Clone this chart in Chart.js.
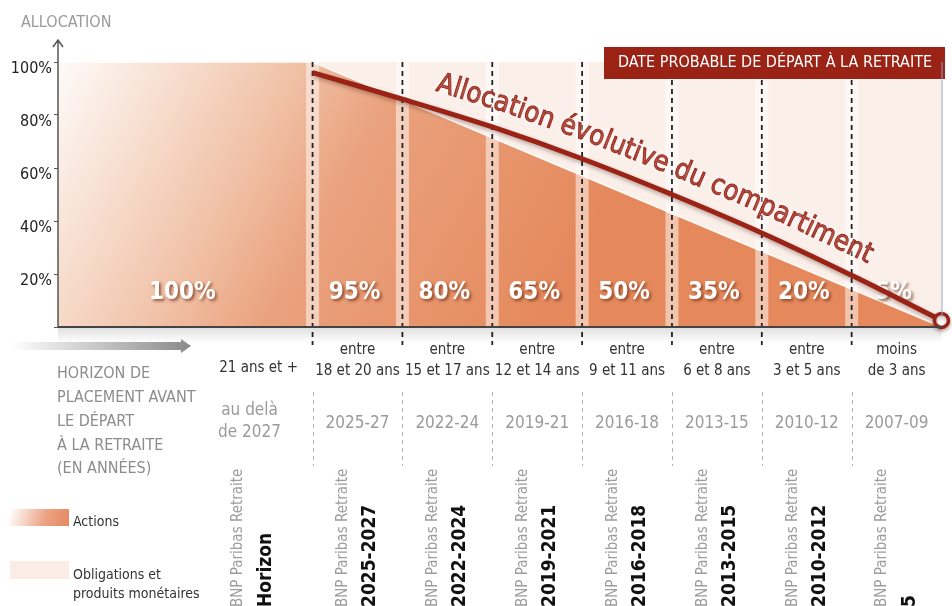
<!DOCTYPE html>
<html>
<head>
<meta charset="utf-8">
<script src="https://cdn.jsdelivr.net/npm/chart.js@4.4.1/dist/chart.umd.min.js"></script>
<style>
  html, body { margin: 0; padding: 0; background: #fff; }
  #wrap { width: 952px; height: 606px; position: relative; }
</style>
</head>
<body>
<div id="wrap"><canvas id="chart"></canvas></div>
<script>
const FONT = "'Liberation Sans Narrow', 'DejaVu Sans Condensed', Roboto, sans-serif";
const RED = "#9a2316";

// years left before retirement, column limits (right edge of the chart = 0)
const xMaxYears = 29.5;
const boundaries = [21, 18, 15, 12, 9, 6, 3];

const horizons = [
  ["21 ans et +"], ["entre", "18 et 20 ans"], ["entre", "15 et 17 ans"], ["entre", "12 et 14 ans"],
  ["entre", "9 et 11 ans"], ["entre", "6 et 8 ans"], ["entre", "3 et 5 ans"], ["moins", "de 3 ans"]
];
const retireDates = [
  ["au delà", "de 2027"], ["2025-27"], ["2022-24"], ["2019-21"],
  ["2016-18"], ["2013-15"], ["2010-12"], ["2007-09"]
];
const funds = ["Horizon", "2025-2027", "2022-2024", "2019-2021", "2016-2018", "2013-2015", "2010-2012", "2005"];
const actionsShare = [100, 95, 80, 65, 50, 35, 20, 5];

// actions area outline
const actionsYears = [29.5, 21, 0];
const actionsPct = [100, 100, 0];

// "Allocation évolutive du compartiment" curve
const allocYears = [21, 18, 15, 12, 9, 6, 3, 0];
const allocPct = [96, 86, 75.5, 63.5, 50, 35.5, 19.5, 2.5];

const yTicks = [0, 20, 40, 60, 80, 100];

function pts(xs, ys) { return xs.map((x, i) => ({ x: x, y: ys[i] })); }

function actionsFill(ctx) {
  const a = ctx.chart.chartArea;
  if (!a) return "#e8916a";
  const g = ctx.chart.ctx.createLinearGradient(a.left, a.top, a.left + 480, a.bottom);
  g.addColorStop(0, "#fefbf9");
  g.addColorStop(0.38, "#f1c2a8");
  g.addColorStop(0.56, "#eaa27e");
  g.addColorStop(1, "#e5895d");
  return g;
}

function textOnPath(ctx, p, text, x0, x1, offset) {
  const cum = [0];
  for (let i = 1; i < p.length; i++) cum.push(cum[i - 1] + Math.hypot(p[i].x - p[i - 1].x, p[i].y - p[i - 1].y));
  const at = s => {
    let i = 1;
    while (i < p.length - 1 && cum[i] < s) i++;
    const a = p[i - 1], b = p[i], t = (s - cum[i - 1]) / (cum[i] - cum[i - 1]);
    return { x: a.x + (b.x - a.x) * t, y: a.y + (b.y - a.y) * t };
  };
  const sAtX = x => {
    for (let i = 1; i < p.length; i++) {
      if (p[i].x >= x) return cum[i - 1] + (cum[i] - cum[i - 1]) * (x - p[i - 1].x) / (p[i].x - p[i - 1].x);
    }
    return cum[cum.length - 1];
  };
  const s0 = sAtX(x0), s1 = sAtX(x1);
  const f = (s1 - s0) / ctx.measureText(text).width;
  let s = s0;
  for (const ch of text) {
    const cw = ctx.measureText(ch).width * f;
    const mid = s + cw / 2;
    const c = at(mid), pa = at(mid - 18), pb = at(mid + 18);
    const ang = Math.atan2(pb.y - pa.y, pb.x - pa.x);
    ctx.save();
    ctx.translate(c.x + Math.sin(ang) * offset, c.y - Math.cos(ang) * offset);
    ctx.rotate(ang);
    ctx.scale(f, 1);
    ctx.fillText(ch, 0, 0);
    ctx.strokeText(ch, 0, 0);
    ctx.restore();
    s += cw;
  }
}

const decor = {
  id: "decor",
  beforeDatasetDraw(chart, args) {
    if (args.index !== 0) return;
    const ctx = chart.ctx;
    ctx.save();
    ctx.shadowColor = "rgba(60,20,10,0.35)";
    ctx.shadowBlur = 4;
    ctx.shadowOffsetY = 2;
  },
  afterDatasetDraw(chart, args) {
    const ctx = chart.ctx;
    const a = chart.chartArea, xs = chart.scales.x, ys = chart.scales.y;
    if (args.index === 0) { ctx.restore(); return; }
    if (args.index !== 1) return;
    // separator stripes and dashed lines
    ctx.save();
    boundaries.forEach(b => {
      const px = xs.getPixelForValue(b);
      ctx.fillStyle = "rgba(255,255,255,0.5)";
      ctx.fillRect(px - 6.5, a.top, 13, a.bottom - a.top);
      ctx.strokeStyle = "#222";
      ctx.lineWidth = 1.8;
      ctx.setLineDash([5, 4]);
      ctx.beginPath();
      ctx.moveTo(px, a.top);
      ctx.lineTo(px, a.bottom + 18);
      ctx.stroke();
    });
    ctx.setLineDash([]);
    // percentage labels
    const edges = [xMaxYears, ...boundaries, 0];
    ctx.font = "bold 24px " + FONT;
    ctx.textAlign = "center";
    ctx.textBaseline = "middle";
    ctx.fillStyle = "#fff";
    ctx.shadowColor = "rgba(110,45,20,0.7)";
    ctx.shadowBlur = 3;
    ctx.shadowOffsetX = 2;
    ctx.shadowOffsetY = 2;
    actionsShare.forEach((v, i) => {
      const cx = (xs.getPixelForValue(edges[i]) + xs.getPixelForValue(edges[i + 1])) / 2;
      ctx.fillText(v + "%", cx - 3, ys.getPixelForValue(13));
    });
    ctx.restore();
  },
  afterDraw(chart) {
    const ctx = chart.ctx;
    const a = chart.chartArea, xs = chart.scales.x;
    const edges = [xMaxYears, ...boundaries, 0];
    const anchors = edges.slice(0, -1).map((e, i) =>
      i === 0 ? xs.getPixelForValue(edges[1]) - 60
              : (xs.getPixelForValue(e) + xs.getPixelForValue(edges[i + 1])) / 2);
    ctx.save();

    // curve caption
    const line = chart.getDatasetMeta(0).data.map(el => ({ x: el.x, y: el.y }));
    ctx.font = "28px " + FONT;
    ctx.fillStyle = RED;
    ctx.strokeStyle = RED;
    ctx.lineWidth = 0.9;
    ctx.textAlign = "center";
    ctx.textBaseline = "alphabetic";
    ctx.shadowColor = "rgba(255,255,255,0.9)";
    ctx.shadowBlur = 6;
    textOnPath(ctx, line, "Allocation évolutive du compartiment", 430, 860, 18);
    ctx.shadowColor = "transparent";
    ctx.shadowBlur = 0;

    // banner
    ctx.fillStyle = RED;
    ctx.fillRect(604, 47, 341, 32);
    ctx.fillStyle = "#fff";
    ctx.font = "16px " + FONT;
    ctx.textBaseline = "middle";
    ctx.fillText("DATE PROBABLE DE DÉPART À LA RETRAITE", 775, 63);

    // right border
    ctx.strokeStyle = "#8fa0c8";
    ctx.lineWidth = 1;
    ctx.beginPath();
    ctx.moveTo(a.right + 0.5, a.top);
    ctx.lineTo(a.right + 0.5, a.bottom - 10);
    ctx.stroke();

    // axes
    const sh = ctx.createLinearGradient(0, a.bottom, 0, a.bottom + 16);
    sh.addColorStop(0, "rgba(0,0,0,0.13)");
    sh.addColorStop(1, "rgba(0,0,0,0)");
    ctx.fillStyle = sh;
    ctx.fillRect(a.left, a.bottom + 1, a.right - a.left, 16);
    ctx.strokeStyle = "#444";
    ctx.lineWidth = 2;
    ctx.beginPath();
    ctx.moveTo(a.left, a.bottom);
    ctx.lineTo(a.right, a.bottom);
    ctx.stroke();
    ctx.lineWidth = 1.5;
    ctx.strokeStyle = "#555";
    ctx.beginPath();
    ctx.moveTo(a.left, a.bottom);
    ctx.lineTo(a.left, 40);
    ctx.moveTo(a.left - 5, 47);
    ctx.lineTo(a.left, 40);
    ctx.lineTo(a.left + 5, 47);
    ctx.stroke();
    ctx.fillStyle = "#9a9a9a";
    ctx.font = "16px " + FONT;
    ctx.textAlign = "left";
    ctx.fillText("ALLOCATION", 21, 23);

    // grey arrow
    const ga = ctx.createLinearGradient(10, 0, 190, 0);
    ga.addColorStop(0, "rgba(140,140,140,0)");
    ga.addColorStop(1, "#8a8a8a");
    ctx.fillStyle = ga;
    ctx.beginPath();
    ctx.moveTo(10, 342); ctx.lineTo(181, 342); ctx.lineTo(181, 339);
    ctx.lineTo(191, 346); ctx.lineTo(181, 353); ctx.lineTo(181, 350);
    ctx.lineTo(10, 350); ctx.closePath();
    ctx.fill();

    ctx.fillStyle = "#8c8c8c";
    ctx.font = "16px " + FONT;
    ["HORIZON DE", "PLACEMENT AVANT", "LE DÉPART", "À LA RETRAITE", "(EN ANNÉES)"]
      .forEach((t, i) => ctx.fillText(t, 57, 374 + i * 23.8));

    // grey dashed separators in the date row
    ctx.strokeStyle = "#b3b3b3";
    ctx.lineWidth = 1;
    ctx.setLineDash([4, 4]);
    boundaries.forEach(b => {
      const px = Math.round(xs.getPixelForValue(b)) + 0.5;
      ctx.beginPath();
      ctx.moveTo(px, 392);
      ctx.lineTo(px, 466);
      ctx.stroke();
    });
    ctx.setLineDash([]);

    // column texts
    ctx.textAlign = "center";
    anchors.forEach((cx, i) => {
      ctx.fillStyle = "#333";
      ctx.font = "15px " + FONT;
      const h = horizons[i];
      if (h.length === 1) ctx.fillText(h[0], cx + 6, 368);
      else h.forEach((t, j) => ctx.fillText(t, cx, 350 + j * 21));
      ctx.fillStyle = "#9b9b9b";
      ctx.font = "17px " + FONT;
      const d = retireDates[i];
      if (d.length === 1) ctx.fillText(d[0], cx, 424);
      else d.forEach((t, j) => ctx.fillText(t, cx - 3, 411 + j * 22));

      ctx.save();
      ctx.translate(cx - 14, 607);
      ctx.rotate(-Math.PI / 2);
      ctx.textAlign = "left";
      ctx.fillStyle = "#9d9d9d";
      ctx.font = "15px " + FONT;
      ctx.fillText("BNP Paribas Retraite", 0, 0);
      ctx.restore();

      ctx.save();
      const last = i === funds.length - 1;
      ctx.translate(cx + 13, last ? 595 : 607);
      ctx.rotate(-Math.PI / 2);
      ctx.textAlign = last ? "right" : "left";
      ctx.fillStyle = "#111";
      ctx.font = "bold 19px " + FONT;
      ctx.fillText(funds[i], 0, 0);
      ctx.restore();
    });

    // legend
    ctx.textAlign = "left";
    const lg = ctx.createLinearGradient(10, 509, 69, 526);
    lg.addColorStop(0, "#ffffff");
    lg.addColorStop(0.6, "#eca283");
    lg.addColorStop(1, "#e5895d");
    ctx.fillStyle = lg;
    ctx.fillRect(10, 509, 59, 17);
    ctx.fillStyle = "#fbece5";
    ctx.fillRect(10, 561, 59, 18);
    ctx.fillStyle = "#333";
    ctx.font = "14px " + FONT;
    ctx.fillText("Actions", 73, 522);
    ctx.fillText("Obligations et", 73, 575);
    ctx.fillText("produits monétaires", 73, 594);
    ctx.restore();
  }
};

new Chart(document.getElementById("chart"), {
  type: "line",
  data: {
    datasets: [
      {
        label: "Allocation évolutive du compartiment",
        data: pts(allocYears, allocPct),
        borderColor: RED,
        borderWidth: 5,
        tension: 0.4,
        fill: false,
        clip: false,
        pointRadius: c => (c.dataIndex === allocYears.length - 1 ? 7 : 0),
        pointBackgroundColor: "#fff",
        pointBorderColor: RED,
        pointBorderWidth: 3.5
      },
      {
        label: "Actions",
        data: pts(actionsYears, actionsPct),
        borderColor: "rgba(255,255,255,0.9)",
        borderWidth: 1.5,
        backgroundColor: actionsFill,
        fill: "origin",
        pointRadius: 0,
        tension: 0
      },
      {
        label: "Obligations et produits monétaires",
        data: pts([xMaxYears, 0], [100, 100]),
        borderWidth: 0,
        backgroundColor: "#fbefea",
        fill: "origin",
        pointRadius: 0
      }
    ]
  },
  options: {
    responsive: true,
    maintainAspectRatio: false,
    animation: false,
    layout: { padding: { left: 0, top: 62, right: 2, bottom: 279 } },
    plugins: { legend: { display: false }, tooltip: { enabled: false } },
    scales: {
      x: { type: "linear", reverse: true, min: 0, max: xMaxYears, display: false },
      y: {
        min: 0,
        max: 100,
        afterFit: s => { s.width = 58; },
        afterBuildTicks: s => { s.ticks = yTicks.map(v => ({ value: v })); },
        border: { display: false },
        grid: { drawOnChartArea: false, tickLength: 4, color: "#555" },
        ticks: {
          padding: 2,
          labelOffset: 7,
          color: "#222",
          font: { family: FONT, size: 16 },
          callback: v => (v === 0 ? "" : v + "%")
        }
      }
    }
  },
  plugins: [decor]
});
</script>
</body>
</html>
